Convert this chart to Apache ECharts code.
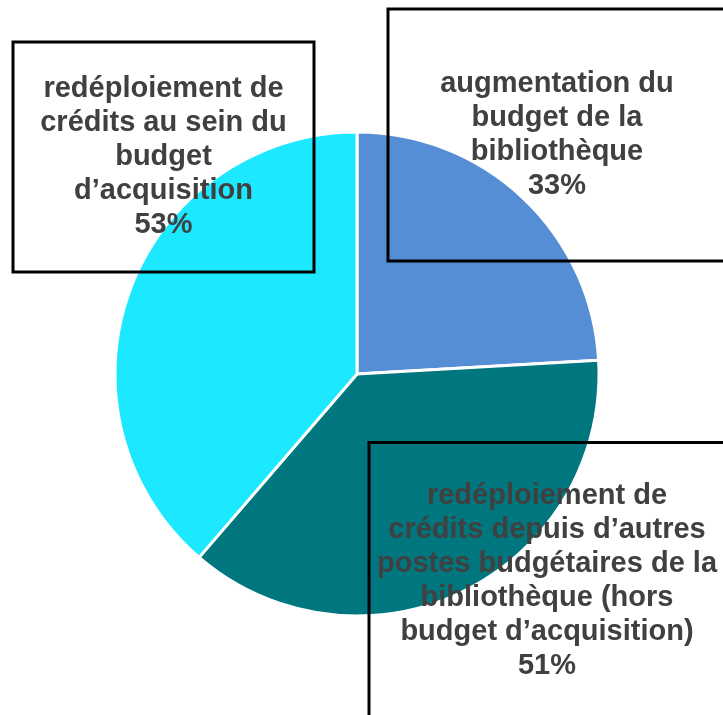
<!DOCTYPE html>
<html>
<head>
<meta charset="utf-8">
<script src="https://cdn.jsdelivr.net/npm/echarts@6/dist/echarts.min.js"></script>
<style>
  html, body { margin: 0; padding: 0; background: #fff; }
  #chart { width: 723px; height: 715px; }
</style>
</head>
<body>
<div id="chart"></div>
<script>
const categories = [
  "augmentation du\nbudget de la\nbibliothèque",
  "redéploiement de\ncrédits depuis d’autres\npostes budgétaires de la\nbibliothèque (hors\nbudget d’acquisition)",
  "redéploiement de\ncrédits au sein du\nbudget\nd’acquisition"
];
const values = [33, 51, 53];
const colors = ["#558ED5", "#00767F", "#1CE8FF"];

// label boxes: [centerX, centerY, width, height]
const boxes = [
  [557, 135, 338, 252],
  [547, 581, 356, 277],
  [163.5, 157, 301, 230]
];
const lineH = 34;
const textShift = 3.5;

const chart = echarts.init(document.getElementById("chart"));

const seriesData = categories.map((name, i) => {
  const lines = name.split("\n").length + 1;
  const padV = (boxes[i][3] - lines * lineH) / 2;
  return {
    name: name,
    value: values[i],
    itemStyle: { color: colors[i] },
    label: {
      width: boxes[i][2],
      padding: [padV + textShift, 0, padV - textShift, 0]
    }
  };
});

chart.setOption({
  animation: false,
  series: [
    {
      type: "pie",
      center: [357, 374],
      radius: 242,
      startAngle: 90,
      clockwise: true,
      avoidLabelOverlap: false,
      itemStyle: { borderColor: "#fff", borderWidth: 3 },
      label: {
        show: true,
        position: "inside",
        formatter: "{b}\n{c}%",
        color: "#404040",
        fontFamily: "Liberation Sans, Arial, sans-serif",
        fontWeight: "bold",
        fontSize: 29,
        lineHeight: lineH,
        align: "center",
        borderColor: "#000",
        borderWidth: 1.5,
        backgroundColor: "transparent"
      },
      labelLine: { show: false },
      labelLayout: (params) => {
        const b = boxes[params.dataIndex];
        return { x: b[0], y: b[1], align: "center", verticalAlign: "middle" };
      },
      data: seriesData
    }
  ]
});
</script>
</body>
</html>
